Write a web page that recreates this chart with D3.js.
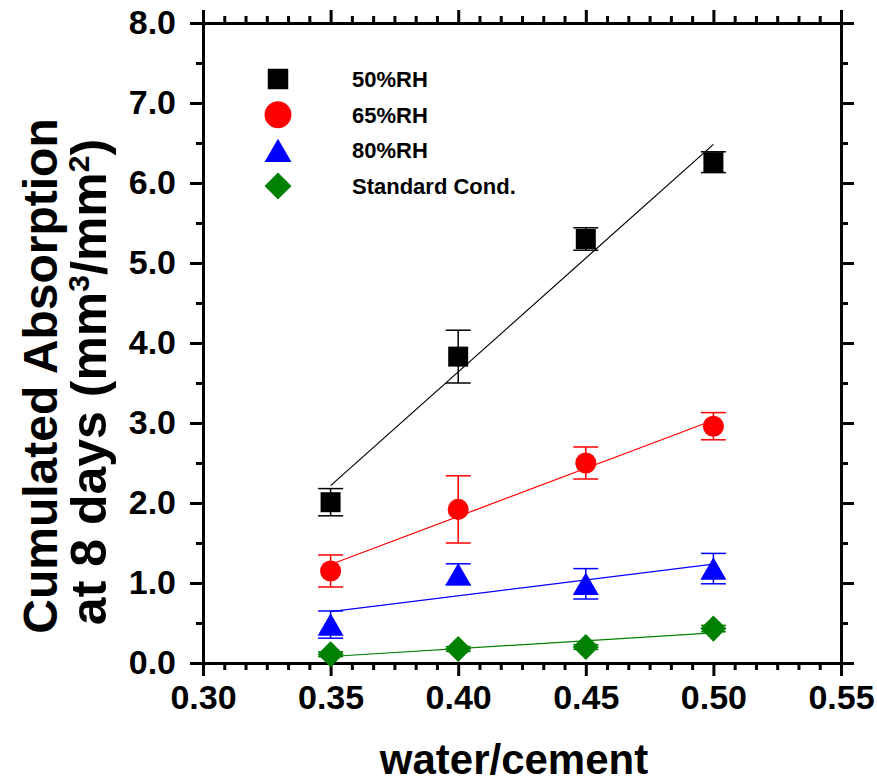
<!DOCTYPE html>
<html>
<head>
<meta charset="utf-8">
<script src="https://cdn.jsdelivr.net/npm/d3@7"></script>
<style>
  body { margin: 0; background: #fff; }
  text { font-family: "Liberation Sans", Arial, sans-serif; font-weight: bold; }
</style>
</head>
<body>
<div id="chart"></div>
<script>
// water/cement ratios
var wc = [0.35, 0.40, 0.45, 0.50];

// cumulated absorption at 8 days (mm3/mm2) and error bars
var rh50 = [2.01, 3.83, 5.30, 6.26];
var rh50Err = [0.17, 0.33, 0.14, 0.13];
var rh65 = [1.15, 1.92, 2.50, 2.96];
var rh65Err = [0.20, 0.42, 0.20, 0.17];
var rh80 = [0.48, 1.11, 0.99, 1.18];
var rh80Err = [0.17, 0.13, 0.19, 0.19];
var standard = [0.11, 0.175, 0.20, 0.43];
var standardErr = [0.03, 0.03, 0.03, 0.04];

var seriesNames = ["50%RH", "65%RH", "80%RH", "Standard Cond."];
var xTicks = [0.30, 0.35, 0.40, 0.45, 0.50, 0.55];
var yTicks = [0, 1, 2, 3, 4, 5, 6, 7, 8];

/******************************setup***************************************/
var width = 877,
	height = 784;

var svg = d3.select("#chart").append("svg")
	.attr("width", width)
	.attr("height", height)
	.style("background-color", "white");

var x = d3.scaleLinear().domain([0.30, 0.55]).range([203, 841]);
var y = d3.scaleLinear().domain([0, 8]).range([663, 23]);

// bbox-centred triangle and a square turned 45 degrees (Origin style)
var triangleUp = {
	draw: function(ctx, size) {
		var s = Math.sqrt(size * 4 / Math.sqrt(3)), h = s * Math.sqrt(3) / 2;
		ctx.moveTo(0, -h / 2);
		ctx.lineTo(s / 2, h / 2);
		ctx.lineTo(-s / 2, h / 2);
		ctx.closePath();
	}
};
var diamond = {
	draw: function(ctx, size) {
		var r = Math.sqrt(size * 2) / 2;
		ctx.moveTo(0, -r);
		ctx.lineTo(r, 0);
		ctx.lineTo(0, r);
		ctx.lineTo(-r, 0);
		ctx.closePath();
	}
};

var series = [
	{ name: seriesNames[0], values: rh50, err: rh50Err, color: "#000000", type: d3.symbolSquare, size: 400, legendSize: 420 },
	{ name: seriesNames[1], values: rh65, err: rh65Err, color: "#ff0000", type: d3.symbolCircle, size: 350, legendSize: 570 },
	{ name: seriesNames[2], values: rh80, err: rh80Err, color: "#0000ff", type: triangleUp, size: 293, legendSize: 316 },
	{ name: seriesNames[3], values: standard, err: standardErr, color: "#008000", type: diamond, size: 340, legendSize: 365 }
];

/******************************axes***************************************/
function minorX() {
	var t = [];
	for (var i = 0; i < xTicks.length - 1; i++)
		for (var k = 1; k < 6; k++) t.push(xTicks[i] + k * 0.05 / 6);
	return t;
}
function minorY() {
	return yTicks.slice(0, -1).map(function(d) { return d + 0.5; });
}

function styleAxis(g) {
	g.selectAll(".domain").attr("stroke", "#000").attr("stroke-width", 3);
	g.selectAll(".tick line").attr("stroke", "#000").attr("stroke-width", 3);
	g.selectAll("text")
		.attr("fill", "#000")
		.style("font-family", '"Liberation Sans", Arial, sans-serif')
		.style("font-weight", "bold")
		.style("font-size", "34px");
}

// bottom
svg.append("g").attr("transform", "translate(0," + y(0) + ")")
	.call(d3.axisBottom(x).tickValues(minorX()).tickSize(7).tickFormat(""))
	.call(function(g) { g.select(".domain").remove(); })
	.call(styleAxis);
svg.append("g").attr("transform", "translate(0," + y(0) + ")")
	.call(d3.axisBottom(x).tickValues(xTicks).tickSize(13).tickSizeOuter(0).tickPadding(9).tickFormat(d3.format(".2f")))
	.call(styleAxis);
// top
svg.append("g").attr("transform", "translate(0," + y(8) + ")")
	.call(d3.axisTop(x).tickValues(minorX()).tickSize(7).tickFormat(""))
	.call(function(g) { g.select(".domain").remove(); })
	.call(styleAxis);
svg.append("g").attr("transform", "translate(0," + y(8) + ")")
	.call(d3.axisTop(x).tickValues(xTicks).tickSize(13).tickSizeOuter(0).tickFormat(""))
	.call(styleAxis);
// left
svg.append("g").attr("transform", "translate(" + x(0.30) + ",0)")
	.call(d3.axisLeft(y).tickValues(minorY()).tickSize(7).tickFormat(""))
	.call(function(g) { g.select(".domain").remove(); })
	.call(styleAxis);
svg.append("g").attr("transform", "translate(" + x(0.30) + ",0)")
	.call(d3.axisLeft(y).tickValues(yTicks).tickSize(13).tickSizeOuter(0).tickPadding(14).tickFormat(d3.format(".1f")))
	.call(styleAxis);
// right
svg.append("g").attr("transform", "translate(" + x(0.55) + ",0)")
	.call(d3.axisRight(y).tickValues(minorY()).tickSize(7).tickFormat(""))
	.call(function(g) { g.select(".domain").remove(); })
	.call(styleAxis);
svg.append("g").attr("transform", "translate(" + x(0.55) + ",0)")
	.call(d3.axisRight(y).tickValues(yTicks).tickSize(13).tickSizeOuter(0).tickFormat(""))
	.call(styleAxis);

// axis titles
svg.append("text")
	.attr("x", 514).attr("y", 774)
	.attr("text-anchor", "middle")
	.style("font-size", "42px")
	.text("water/cement");

var yTitle = svg.append("g").attr("transform", "translate(0,376) rotate(-90)");
yTitle.append("text")
	.attr("x", 0).attr("y", 57)
	.attr("text-anchor", "middle")
	.style("font-size", "48px")
	.text("Cumulated Absorption");
var line2 = yTitle.append("text")
	.attr("x", -6).attr("y", 106)
	.attr("text-anchor", "middle")
	.style("font-size", "50px");
line2.append("tspan").text("at 8 days (mm");
line2.append("tspan").attr("dy", -17).style("font-size", "30px").text("3");
line2.append("tspan").attr("dy", 17).text("/mm");
line2.append("tspan").attr("dy", -17).style("font-size", "30px").text("2");
line2.append("tspan").attr("dy", 17).text(")");

/******************************data***************************************/
function fit(vals) {
	var mx = d3.mean(wc), my = d3.mean(vals), sxy = 0, sxx = 0;
	wc.forEach(function(d, i) { sxy += (d - mx) * (vals[i] - my); sxx += (d - mx) * (d - mx); });
	var b = sxy / sxx;
	return function(v) { return my + b * (v - mx); };
}

var plot = svg.append("g");

series.forEach(function(s) {
	var f = fit(s.values);
	plot.append("line")
		.attr("x1", x(wc[0])).attr("y1", y(f(wc[0])))
		.attr("x2", x(wc[wc.length - 1])).attr("y2", y(f(wc[wc.length - 1])))
		.attr("stroke", s.color)
		.attr("stroke-width", 1.2);

	var pts = plot.selectAll(null)
		.data(wc.map(function(d, i) { return { x: d, v: s.values[i], e: s.err[i] }; }))
		.enter().append("g");

	pts.append("line")
		.attr("x1", function(d) { return x(d.x); })
		.attr("x2", function(d) { return x(d.x); })
		.attr("y1", function(d) { return y(d.v - d.e); })
		.attr("y2", function(d) { return y(d.v + d.e); })
		.attr("stroke", s.color).attr("stroke-width", 1.5);
	[-1, 1].forEach(function(sign) {
		pts.append("line")
			.attr("x1", function(d) { return x(d.x) - 12.5; })
			.attr("x2", function(d) { return x(d.x) + 12.5; })
			.attr("y1", function(d) { return y(d.v + sign * d.e); })
			.attr("y2", function(d) { return y(d.v + sign * d.e); })
			.attr("stroke", s.color).attr("stroke-width", 1.5);
	});

	pts.append("path")
		.attr("transform", function(d) { return "translate(" + x(d.x) + "," + y(d.v) + ")"; })
		.attr("d", d3.symbol().type(s.type).size(s.size))
		.attr("fill", s.color);
});

/******************************legend***************************************/
var legend = svg.selectAll(".legend")
	.data(series)
	.enter().append("g")
	.attr("class", "legend")
	.attr("transform", function(d, i) { return "translate(278," + (79 + i * 35.7) + ")"; });

legend.append("path")
	.attr("d", function(d) { return d3.symbol().type(d.type).size(d.legendSize)(); })
	.attr("fill", function(d) { return d.color; });

legend.append("text")
	.attr("x", 74).attr("y", 8)
	.style("font-size", "22px")
	.text(function(d) { return d.name; });
</script>
</body>
</html>
